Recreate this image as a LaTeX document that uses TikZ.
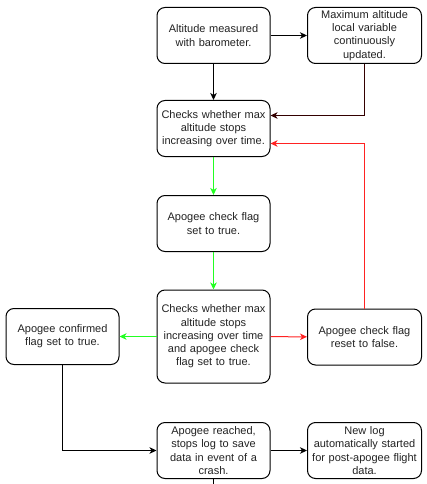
\documentclass[tikz,border=0pt]{standalone}
\usepackage{fontspec}
\setmainfont{Liberation Sans}
\usetikzlibrary{arrows.meta}
\definecolor{flowgreen}{HTML}{22FF22}
\definecolor{flowred}{HTML}{FF2222}
\definecolor{flowbrown}{HTML}{330000}
\definecolor{inkgray}{HTML}{222222}
\begin{document}
\begin{tikzpicture}[x=1pt,y=-1pt,
  stepbox/.style={draw=black, line width=1pt, rounded corners=8pt,
    minimum width=113pt, minimum height=56pt, text width=110pt,
    align=center, inner sep=1pt, text=inkgray,
    font=\fontsize{11}{13.3}\selectfont},
  flow/.style={line width=1pt, -{Stealth[length=7pt,width=6.5pt,inset=2pt]}},
  ]
\useasboundingbox (0,0) rectangle (427,484);

% process boxes
\node[stepbox] (n1) at (213.5,35.5) {Altitude measured\\with barometer.};
\node[stepbox, minimum width=114pt] (n2) at (364.5,35.5) {Maximum altitude\\local variable\\continuously\\updated.};
\node[stepbox] (n3) at (213.5,128.5) {Checks whether max\\altitude stops\\increasing over time.};
\node[stepbox] (n4) at (213.5,223.5) {Apogee check flag\\set to true.};
\node[stepbox, minimum height=93pt] (n5) at (213.5,336.5) {Checks whether max\\altitude stops\\increasing over time\\and apogee check\\flag set to true.};
\node[stepbox, minimum width=114pt] (n6) at (364.5,337) {Apogee check flag\\reset to false.};
\node[stepbox] (n7) at (62.5,336.5) {Apogee confirmed\\flag set to true.};
\node[stepbox] (n8) at (213.5,450.5) {Apogee reached,\\stops log to save\\data in event of a\\crash.};
\node[stepbox, minimum width=114pt] (n9) at (364.5,450.5) {New log\\automatically started\\for post-apogee flight\\data.};

% bends of the feedback lines
\coordinate (bjoin) at (364.5,115.5);
\coordinate (rjoin) at (364.5,143.5);
\coordinate (tail) at (213.5,484);

% connectors
\draw[flow] (n1) -- (n2);
\draw[flow] (n1) -- (n3);
\draw[flow, draw=flowbrown] (n2.south) -- (bjoin) -- (n3.east |- bjoin);
\draw[flow, draw=flowred] (n6.north) -- (rjoin) -- (n3.east |- rjoin);
\draw[flow, draw=flowgreen] (n3) -- (n4);
\draw[flow, draw=flowgreen] (n4) -- (n5);
\draw[flow, draw=flowgreen] (n5) -- (n7);
\draw[flow, draw=flowred] (n5) -- (n6);
\draw[flow] (n7.south) |- (n8.west);
\draw[flow] (n8) -- (n9);
\draw[line width=1pt] (n8.south) -- (tail);
\end{tikzpicture}
\end{document}
